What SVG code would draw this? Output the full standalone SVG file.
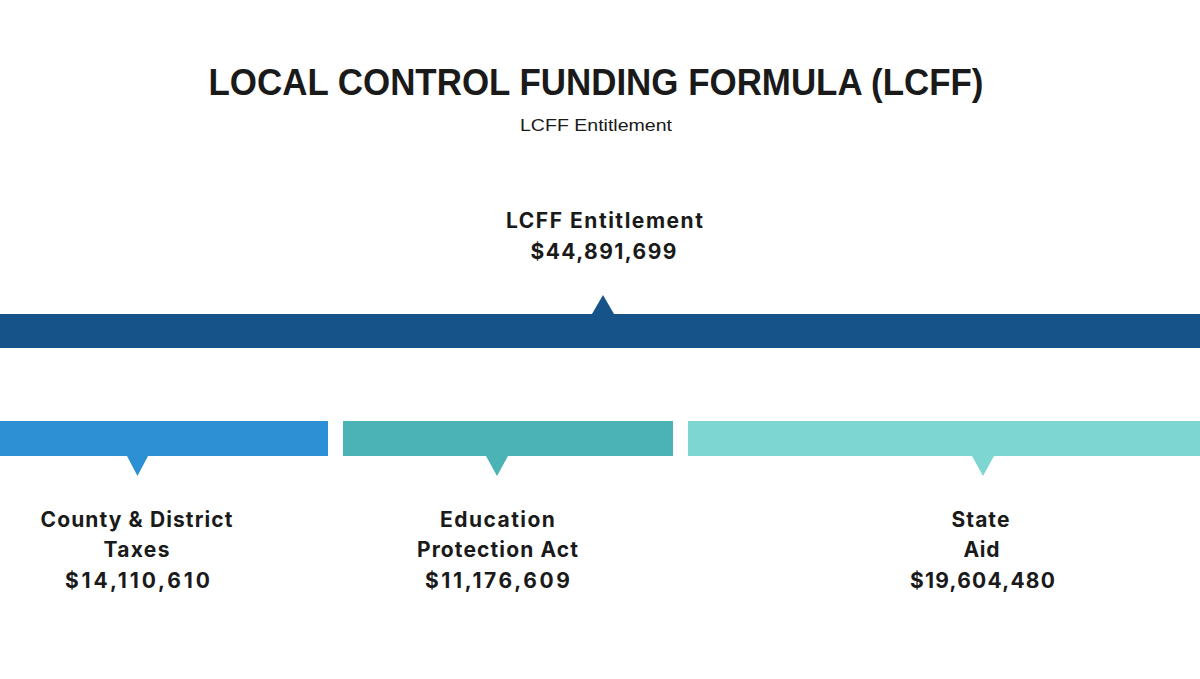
<svg xmlns="http://www.w3.org/2000/svg" width="1200" height="679" viewBox="0 0 1200 679">
<style>
.title{font-family:"Liberation Sans",Arial,sans-serif;font-weight:bold;font-size:36px;fill:#1a1a1a;text-anchor:middle}
.sub{font-family:"Liberation Sans",Arial,sans-serif;font-size:17px;fill:#1a1a1a;text-anchor:middle}
.lbl{font-family:Inter,"Noto Sans",sans-serif;font-weight:700;font-size:21px;fill:#1a1a1a;text-anchor:middle;letter-spacing:1.1px}
</style>
<rect width="1200" height="679" fill="#ffffff"/>
<text class="title" x="596" y="95" textLength="775" lengthAdjust="spacingAndGlyphs">LOCAL CONTROL FUNDING FORMULA (LCFF)</text>
<text class="sub" x="596" y="131" textLength="152" lengthAdjust="spacingAndGlyphs">LCFF Entitlement</text>
<g id="node-total">
<text class="lbl" x="605" y="228" textLength="198">LCFF Entitlement</text>
<text class="lbl" x="604" y="259" textLength="147">$44,891,699</text>
<rect x="0" y="314" width="1200" height="34" fill="#155388"/>
<polygon points="592,314 614,314 603,295" fill="#155388"/>
</g>
<g id="connectors"></g>
<g id="node-county">
<rect x="0" y="421" width="328" height="35" fill="#2E90D4"/>
<polygon points="127,456 148,456 137.5,476" fill="#2E90D4"/>
<text class="lbl" x="137" y="527" textLength="193">County &amp; District</text>
<text class="lbl" x="137" y="557" textLength="67">Taxes</text>
<text class="lbl" x="138" y="588" textLength="146">$14,110,610</text>
</g>
<g id="node-epa">
<rect x="343" y="421" width="330" height="35" fill="#4BB3B5"/>
<polygon points="486,456 508,456 497,476" fill="#4BB3B5"/>
<text class="lbl" x="498" y="527" textLength="116">Education</text>
<text class="lbl" x="498" y="557" textLength="162">Protection Act</text>
<text class="lbl" x="498" y="588" textLength="146">$11,176,609</text>
</g>
<g id="node-state">
<rect x="688" y="421" width="512" height="35" fill="#7ED6D3"/>
<polygon points="972,456 994,456 983,476" fill="#7ED6D3"/>
<text class="lbl" x="981" y="527" textLength="59">State</text>
<text class="lbl" x="982" y="557" textLength="37">Aid</text>
<text class="lbl" x="983" y="588" textLength="146">$19,604,480</text>
</g>
</svg>
